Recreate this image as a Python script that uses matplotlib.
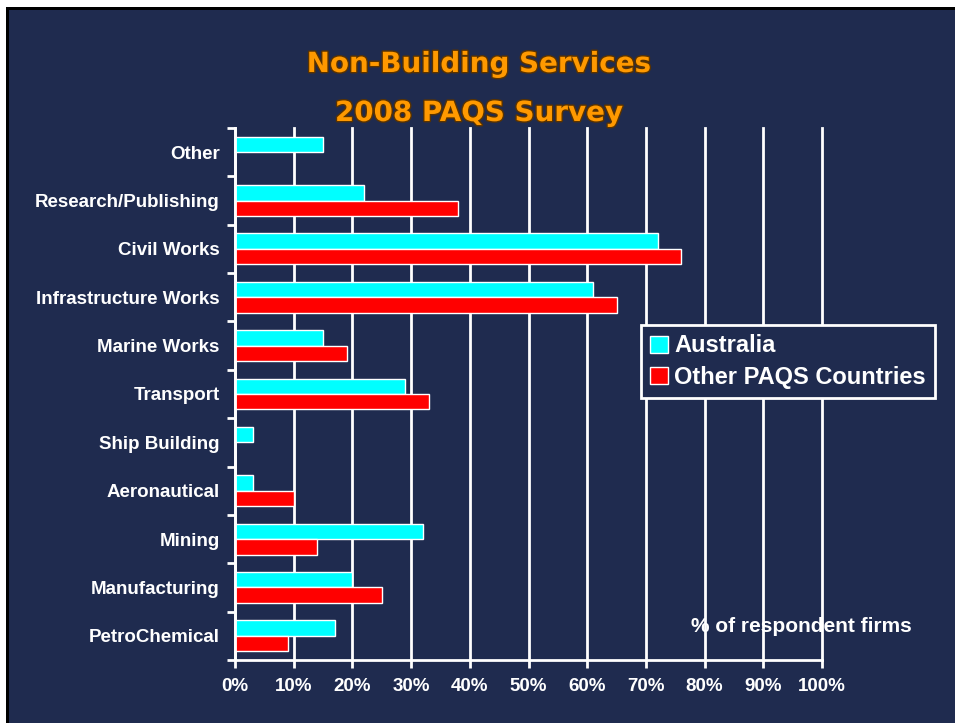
import numpy as np
import matplotlib
matplotlib.use("Agg")
from matplotlib import pyplot as plt
from matplotlib.patches import Rectangle
import matplotlib.patheffects as pe

# data (% of respondent firms)
categories = ["Other", "Research/Publishing", "Civil Works", "Infrastructure Works",
              "Marine Works", "Transport", "Ship Building", "Aeronautical",
              "Mining", "Manufacturing", "PetroChemical"]
australia = [15, 22, 72, 61, 15, 29, 3, 3, 32, 20, 17]
other_paqs = [0, 38, 76, 65, 19, 33, 0, 10, 14, 25, 9]
xticks = list(range(0, 101, 10))
xlabels = [f"{v}%" for v in xticks]

NAVY = "#1f2b4f"
CYAN = "#00ffff"
RED = "#ff0000"

plt.rcParams["font.family"] = ["Liberation Sans", "DejaVu Sans"]

fig = plt.figure(figsize=(9.55, 7.23), dpi=100, facecolor="white")
# black frame on left/top, then the navy slide (running off right and bottom)
fig.patches.append(Rectangle((6 / 955, -0.1), 1.2, 0.1 + (723 - 7) / 723, transform=fig.transFigure,
                             facecolor="black", edgecolor="none", zorder=-2))
fig.patches.append(Rectangle((9 / 955, -0.1), 1.2, 0.1 + (723 - 10) / 723, transform=fig.transFigure,
                             facecolor=NAVY, edgecolor="none", zorder=-1))

ax = fig.add_axes([235 / 955, 1 - 660 / 723, (822 - 235) / 955, (660 - 128) / 723])
ax.set_facecolor(NAVY)

y = np.arange(len(categories))
h = 0.32
ax.barh(y - h / 2, australia, height=h, color=CYAN, edgecolor="white", linewidth=1,
        label="Australia", zorder=3)
ax.barh(y + h / 2, other_paqs, height=h, color=RED, edgecolor="white", linewidth=1,
        label="Other PAQS Countries", zorder=3)

ax.set_xlim(0, 100)
ax.set_ylim(len(categories) - 0.5, -0.5)

ax.set_xticks(xticks)
ax.set_xticklabels(xlabels, fontsize=13.5, fontweight="bold", color="white")
ax.set_yticks(y)
ax.set_yticklabels(categories, fontsize=13.5, fontweight="bold", color="white")
ax.set_yticks(np.arange(-0.5, len(categories)), minor=True)

ax.tick_params(axis="x", direction="out", length=6, width=2, color="white", pad=7)
ax.tick_params(axis="y", which="major", length=0, pad=11)
ax.tick_params(axis="y", which="minor", direction="out", length=6, width=2, color="white")

ax.xaxis.grid(True, color="white", linewidth=2, zorder=1)
for gl in ax.get_xgridlines():
    gl.set_clip_on(False)
ax.set_axisbelow(True)
for s in ["top", "right"]:
    ax.spines[s].set_visible(False)
for s in ["left", "bottom"]:
    ax.spines[s].set_color("white")
    ax.spines[s].set_linewidth(2)
    ax.spines[s].set_zorder(4)

# title
shadow = [pe.withStroke(linewidth=2, foreground="#5a3300")]
fig.text(479 / 955, 1 - 64 / 723, "Non-Building Services", ha="center", va="center",
         fontsize=20, color="#ff9900", family="DejaVu Sans", fontweight="bold",
         path_effects=shadow)
fig.text(479 / 955, 1 - 113 / 723, "2008 PAQS Survey", ha="center", va="center",
         fontsize=20, color="#ff9900", family="DejaVu Sans", fontweight="bold",
         path_effects=shadow)

leg = fig.legend(loc="upper left", bbox_to_anchor=(641 / 955, 1 - 325 / 723),
                 prop={"size": 17, "weight": "bold"}, frameon=True, fancybox=False,
                 facecolor=NAVY, edgecolor="white", framealpha=1,
                 handlelength=0.75, handleheight=0.75, handletextpad=0.25,
                 borderpad=0.4, labelspacing=0.35, borderaxespad=0)
leg.get_frame().set_linewidth(2)
for t in leg.get_texts():
    t.set_color("white")

fig.text(691 / 955, 1 - 626 / 723, "% of respondent firms", ha="left", va="center",
         fontsize=15, fontweight="bold", color="white")

fig.savefig("out.png", dpi=100, facecolor=fig.get_facecolor())
